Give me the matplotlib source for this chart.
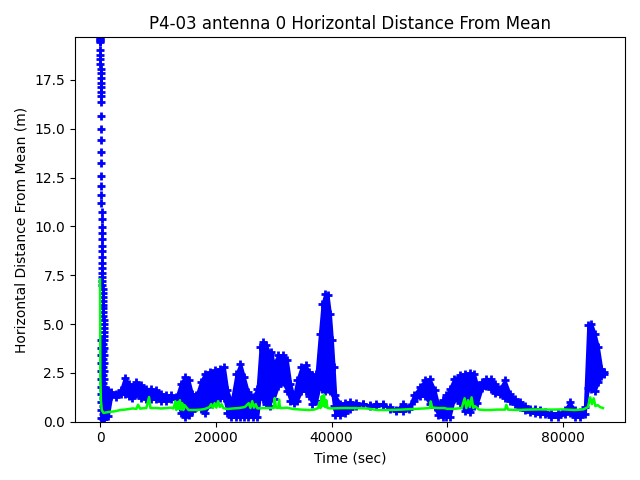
import matplotlib
matplotlib.use('Agg')
import matplotlib.pyplot as plt
import numpy as np

# first epochs after start: solution converging from far away
init_t = [0, 10, 20, 30, 40, 50, 60, 70, 80, 90, 100, 110, 120, 130, 140, 150,
          160, 170, 180, 190, 200, 210, 220, 230, 240, 250, 260, 270, 280, 290,
          300, 310, 320, 330, 340, 350, 360, 380, 400, 420, 440, 460, 480, 500,
          520, 540, 560, 580, 600, 620, 640, 660, 680, 700,
          200, 200, 200, 200, 200, 200, 200, 200, 200, 200, 200,
          450, 450, 450, 450, 450, 450, 450, 450, 450, 450, 450,
          700, 700, 700, 700, 700, 700, 700, 700, 700, 700, 700]
init_v = [19.66, 19.6, 19.54, 19.48, 19.42, 19.03, 18.78, 18.56, 18.30, 18.05,
          17.84, 17.58, 17.36, 17.16, 16.90, 16.68, 16.39, 15.66, 14.99, 14.40,
          13.83, 13.24, 12.60, 12.09, 11.62, 11.19, 10.76, 10.37, 9.99, 9.65,
          9.35, 9.01, 8.72, 8.41, 8.12, 7.86, 7.61, 7.4, 7.2, 7.0, 6.8, 6.6,
          6.4, 6.2, 6.0, 5.8, 5.6, 5.4, 5.2, 5.0, 4.8, 4.6, 4.4, 4.2,
          4.2, 3.8, 3.4, 3.0, 2.6, 2.2, 1.8, 1.4, 1.0, 0.6, 0.2,
          4.0, 3.6, 3.2, 2.8, 2.4, 2.0, 1.6, 1.2, 0.8, 0.4, 0.15,
          3.8, 3.4, 3.0, 2.6, 2.2, 1.8, 1.4, 1.0, 0.6, 0.3, 0.15]

# scatter band of the blue series: time, upper and lower edge
band_t = [800, 1388, 1964, 2828, 3577, 4268, 4959, 5535, 6284, 7148, 8012,
          8876, 9740, 10604, 11468, 12332, 13196, 13945, 14637, 15328, 15904,
          16653, 17402, 18092, 18956, 19820, 20684, 21433, 22009, 22700, 23564,
          24256, 24889, 25580, 26444, 27193, 27711, 28172, 28748, 29324,
          29613, 30013, 30765, 31630, 32321, 32897, 33473, 34049, 34798, 35547,
          36123, 36699, 37390, 37966, 38427, 38888, 39349, 39752, 40098, 40386,
          40674, 41423, 42287, 43151, 44303, 45455, 46607, 47759, 48911, 50063,
          51215, 52367, 53404, 54210, 55247, 56111, 56975, 57839, 58415, 59279,
          59852, 60428, 61177, 62156, 63020, 63884, 64633, 65209, 66015, 66764,
          67513, 68204, 69068, 69932, 70796, 71660, 72524, 73388, 74252, 75116,
          75980, 76844, 77996, 79148, 80300, 81164, 82028, 82892, 83756, 84332,
          84908, 85484, 86060, 86636, 87000]
band_hi = [1.69, 1.61, 1.52, 1.44, 1.61, 2.26, 1.95, 1.78, 2.03, 1.86, 1.69,
           1.69, 1.61, 1.44, 1.35, 1.35, 1.27, 1.95, 2.29, 2.12, 1.44,
           1.35, 2.03, 2.46, 2.55, 2.63, 2.72, 2.80, 1.61, 1.01, 2.46,
           2.97, 2.29, 1.52, 1.27, 1.69, 3.83, 4.08, 3.91, 3.48,
           3.57, 2.97, 3.40, 3.40, 3.14, 1.95, 1.27, 2.12, 2.80, 2.89,
           2.55, 2.38, 2.46, 4.51, 6.04, 6.55, 6.47, 5.53, 4.17, 2.80,
           1.35, 0.93, 0.96, 1.01, 0.96, 0.93, 0.84, 0.93, 0.89, 0.67,
           0.62, 0.93, 0.76, 1.35, 1.78, 2.12, 2.20, 1.61, 0.93, 1.10,
           1.35, 1.69, 2.20, 2.38, 2.46, 2.49, 2.46, 1.86, 2.03, 2.20,
           2.20, 1.95, 1.69, 2.12, 1.44, 1.18, 1.01, 0.79, 0.67, 0.67,
           0.62, 0.50, 0.45, 0.45, 0.58, 1.01, 0.58, 0.50, 0.76, 4.93,
           5.02, 4.51, 3.83, 2.72, 2.55]
band_lo = [0.3, 0.3, 1.33, 1.29, 1.41, 1.41, 1.33, 1.24, 1.41, 1.24, 1.16,
           1.16, 1.16, 1.07, 1.07, 1.16, 1.16, 0.47, 0.25, 0.35, 0.56,
           0.73, 0.64, 0.47, 0.90, 1.16, 1.24, 1.24, 0.47, 0.25, 0.25,
           0.25, 0.25, 0.22, 0.25, 0.25, 1.50, 1.16, 0.90, 0.81,
           1.24, 1.16, 1.84, 2.01, 1.58, 1.07, 0.98, 1.07, 1.58, 1.58,
           1.33, 0.90, 1.07, 1.84, 1.67, 1.58, 1.67, 1.58, 1.50, 0.81,
           0.35, 0.35, 0.47, 0.64, 0.81, 0.90, 0.81, 0.81, 0.85, 0.73,
           0.56, 0.56, 0.64, 1.07, 1.33, 1.33, 0.90, 0.73, 0.35, 0.25,
           0.25, 0.25, 1.16, 0.98, 0.56, 0.51, 0.81, 0.98, 1.75, 1.84,
           1.67, 1.46, 1.41, 1.24, 1.07, 0.90, 0.73, 0.61, 0.51, 0.44,
           0.39, 0.39, 0.25, 0.25, 0.39, 0.47, 0.25, 0.25, 0.39, 1.75,
           1.67, 1.58, 2.01, 2.35, 2.45]

# green series
green_t = [0, 60, 150, 300, 600, 1500, 2500, 3500, 4300, 5000, 5600, 6284, 6572,
           6900, 7148, 8000, 8473, 8700, 9700, 10600, 11500, 12300, 12700,
           13000, 13200, 13400, 13600, 13800, 14000, 14200, 14400, 14600,
           15300, 16400, 17400, 18100, 18900, 19200, 19500, 19800, 20100,
           20400, 20700, 21000, 21300, 22000, 23000, 24000, 25000, 25700,
           26000, 26300, 26600, 26900, 27200, 28200, 29300, 30000, 30188,
           30400, 30800, 30937, 31100, 31600, 32300, 33400, 34800, 36100,
           37000, 37700, 37900, 38100, 38300, 38500, 38700, 38900, 39100,
           39300, 40000, 42000, 44000, 46000, 48000, 50000, 52000, 54000,
           56000, 57000, 57145, 57400, 58500, 59500, 60000, 61200, 62500,
           63000, 63300, 63600, 63900, 64200, 64500, 64800, 65500, 66500,
           67500, 68500, 70000, 70200, 70500, 72000, 74000, 76000, 78000,
           80000, 82000, 83500, 84300, 84700, 85000, 85300, 85600, 86000,
           86400, 86900]
green_v = [7.3, 2.3, 1.1, 0.6, 0.45, 0.5, 0.53, 0.6, 0.62, 0.65, 0.68, 0.66, 0.87,
           0.67, 0.68, 0.7, 1.26, 0.7, 0.7, 0.68, 0.7, 0.72, 0.68,
           1.05, 0.6, 1.0, 0.65, 1.1, 0.62, 0.95, 0.6, 0.85,
           0.6, 0.6, 0.62, 0.65, 0.75, 0.9, 0.7, 0.95, 0.72,
           1.05, 0.75, 0.9, 0.7, 0.65, 0.68, 0.7, 0.75, 0.95,
           0.7, 1.05, 0.72, 0.9, 0.68, 0.7, 0.7, 0.7, 1.21,
           0.72, 0.7, 1.13, 0.7, 0.7, 0.72, 0.65, 0.62, 0.6,
           0.62, 0.7, 1.0, 0.7, 1.3, 0.8, 1.38, 0.75, 1.1,
           0.7, 0.68, 0.7, 0.7, 0.68, 0.6, 0.6, 0.62, 0.65,
           0.68, 0.7, 1.04, 0.72, 0.7, 0.7, 0.66, 0.66, 0.7,
           1.2, 0.7, 1.1, 0.75, 1.25, 0.7, 0.8, 0.62, 0.6,
           0.6, 0.62, 0.62, 0.87, 0.62, 0.6, 0.62, 0.63, 0.62,
           0.63, 0.6, 0.63, 0.75, 1.25, 0.9, 1.2, 0.8, 0.85,
           0.75, 0.7]

fig = plt.figure(figsize=(6.4, 4.8), dpi=100)
ax = fig.add_subplot(111)

ax.fill_between(band_t, band_lo, band_hi, color='b', linewidth=2)
ax.plot(band_t, band_hi, 'b+', markersize=6, markeredgewidth=2)
ax.plot(band_t, band_lo, 'b+', markersize=6, markeredgewidth=2)
ax.plot(init_t, init_v, 'b+', markersize=6, markeredgewidth=2)
ax.plot(green_t, green_v, color='lime', linewidth=1.8)

ax.set_xlim(-4320, 90713)
ax.set_ylim(0, 19.68)
ax.set_title('P4-03 antenna 0 Horizontal Distance From Mean')
ax.set_xlabel('Time (sec)')
ax.set_ylabel('Horizontal Distance From Mean (m)')

plt.tight_layout()
fig.savefig('out.png')
